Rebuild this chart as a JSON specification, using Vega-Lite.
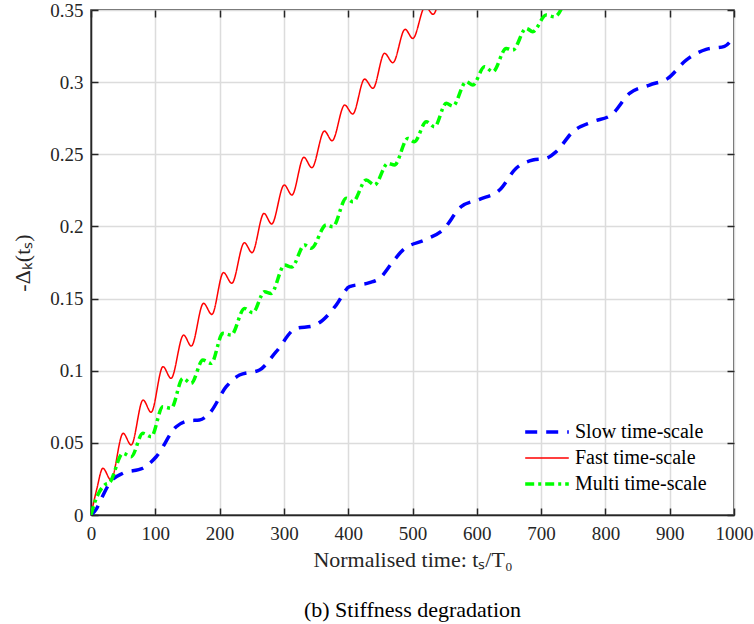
{
  "$schema": "https://vega.github.io/schema/vega-lite/v6.json",
  "autosize": "none",
  "width": 643,
  "height": 505,
  "padding": {"left": 91, "top": 10, "right": 20, "bottom": 109},
  "background": "white",
  "config": {
    "font": "Liberation Serif",
    "view": {"stroke": "#262626", "strokeWidth": 1.5},
    "axis": {
      "labelFont": "Liberation Serif",
      "titleFont": "Liberation Serif",
      "labelColor": "#262626",
      "titleColor": "#262626",
      "labelFontSize": 19,
      "titleFontSize": 22,
      "titleFontWeight": "normal",
      "gridColor": "#dcdcdc",
      "gridWidth": 1.5,
      "domainColor": "#262626",
      "domainWidth": 1.5,
      "tickColor": "#262626",
      "tickWidth": 1.5,
      "tickSize": -7,
      "labelFlush": false
    }
  },
  "title": {
    "text": "(b) Stiffness degradation",
    "orient": "bottom",
    "font": "Liberation Serif",
    "fontSize": 22,
    "fontWeight": "normal",
    "color": "#000000",
    "offset": 30
  },
  "data": {
    "values": [
      {"series": "Slow time-scale", "t": 0, "d": 0},
      {"series": "Slow time-scale", "t": 8, "d": 0.004},
      {"series": "Slow time-scale", "t": 18, "d": 0.013},
      {"series": "Slow time-scale", "t": 28.8, "d": 0.022},
      {"series": "Slow time-scale", "t": 49.5, "d": 0.0289},
      {"series": "Slow time-scale", "t": 80.6, "d": 0.0324},
      {"series": "Slow time-scale", "t": 101.4, "d": 0.0404},
      {"series": "Slow time-scale", "t": 132.5, "d": 0.0612},
      {"series": "Slow time-scale", "t": 153.2, "d": 0.0654},
      {"series": "Slow time-scale", "t": 168.7, "d": 0.0658},
      {"series": "Slow time-scale", "t": 184.3, "d": 0.0705},
      {"series": "Slow time-scale", "t": 210.3, "d": 0.0889},
      {"series": "Slow time-scale", "t": 231, "d": 0.097},
      {"series": "Slow time-scale", "t": 262, "d": 0.1005},
      {"series": "Slow time-scale", "t": 288, "d": 0.1132},
      {"series": "Slow time-scale", "t": 319, "d": 0.1294},
      {"series": "Slow time-scale", "t": 345, "d": 0.131},
      {"series": "Slow time-scale", "t": 360.5, "d": 0.1351},
      {"series": "Slow time-scale", "t": 381.3, "d": 0.1455},
      {"series": "Slow time-scale", "t": 402, "d": 0.1582},
      {"series": "Slow time-scale", "t": 433.1, "d": 0.161},
      {"series": "Slow time-scale", "t": 448.7, "d": 0.164},
      {"series": "Slow time-scale", "t": 469.4, "d": 0.1755},
      {"series": "Slow time-scale", "t": 485, "d": 0.1836},
      {"series": "Slow time-scale", "t": 521.3, "d": 0.191},
      {"series": "Slow time-scale", "t": 547.1, "d": 0.1975},
      {"series": "Slow time-scale", "t": 575.7, "d": 0.2137},
      {"series": "Slow time-scale", "t": 604.2, "d": 0.2188},
      {"series": "Slow time-scale", "t": 635.3, "d": 0.2252},
      {"series": "Slow time-scale", "t": 661.2, "d": 0.2403},
      {"series": "Slow time-scale", "t": 687, "d": 0.246},
      {"series": "Slow time-scale", "t": 707.9, "d": 0.2472},
      {"series": "Slow time-scale", "t": 723.5, "d": 0.2518},
      {"series": "Slow time-scale", "t": 749.3, "d": 0.2656},
      {"series": "Slow time-scale", "t": 780.4, "d": 0.2726},
      {"series": "Slow time-scale", "t": 809, "d": 0.2772},
      {"series": "Slow time-scale", "t": 837.5, "d": 0.2922},
      {"series": "Slow time-scale", "t": 868.6, "d": 0.298},
      {"series": "Slow time-scale", "t": 897, "d": 0.3026},
      {"series": "Slow time-scale", "t": 925.6, "d": 0.3153},
      {"series": "Slow time-scale", "t": 956.7, "d": 0.3227},
      {"series": "Slow time-scale", "t": 985.2, "d": 0.3248},
      {"series": "Slow time-scale", "t": 1000, "d": 0.3315},

      {"series": "Fast time-scale", "t": 0, "d": 0},
      {"series": "Fast time-scale", "t": 9, "d": 0.018},
      {"series": "Fast time-scale", "t": 18.5, "d": 0.0324},
      {"series": "Fast time-scale", "t": 31, "d": 0.0243},
      {"series": "Fast time-scale", "t": 50, "d": 0.0566},
      {"series": "Fast time-scale", "t": 62.5, "d": 0.0485},
      {"series": "Fast time-scale", "t": 81, "d": 0.0797},
      {"series": "Fast time-scale", "t": 93.5, "d": 0.0712},
      {"series": "Fast time-scale", "t": 112, "d": 0.1028},
      {"series": "Fast time-scale", "t": 124.5, "d": 0.0947},
      {"series": "Fast time-scale", "t": 144, "d": 0.1247},
      {"series": "Fast time-scale", "t": 156, "d": 0.1171},
      {"series": "Fast time-scale", "t": 175, "d": 0.1467},
      {"series": "Fast time-scale", "t": 188, "d": 0.139},
      {"series": "Fast time-scale", "t": 206, "d": 0.168},
      {"series": "Fast time-scale", "t": 219, "d": 0.1606},
      {"series": "Fast time-scale", "t": 238.5, "d": 0.1887},
      {"series": "Fast time-scale", "t": 250.5, "d": 0.1818},
      {"series": "Fast time-scale", "t": 269, "d": 0.209},
      {"series": "Fast time-scale", "t": 281, "d": 0.2017},
      {"series": "Fast time-scale", "t": 300.5, "d": 0.2287},
      {"series": "Fast time-scale", "t": 312.5, "d": 0.2218},
      {"series": "Fast time-scale", "t": 331, "d": 0.2479},
      {"series": "Fast time-scale", "t": 343.5, "d": 0.2407},
      {"series": "Fast time-scale", "t": 363, "d": 0.2661},
      {"series": "Fast time-scale", "t": 375, "d": 0.2594},
      {"series": "Fast time-scale", "t": 394.5, "d": 0.2841},
      {"series": "Fast time-scale", "t": 407, "d": 0.2779},
      {"series": "Fast time-scale", "t": 425.5, "d": 0.3021},
      {"series": "Fast time-scale", "t": 438.5, "d": 0.2957},
      {"series": "Fast time-scale", "t": 456.5, "d": 0.32},
      {"series": "Fast time-scale", "t": 469.5, "d": 0.3135},
      {"series": "Fast time-scale", "t": 488.5, "d": 0.3366},
      {"series": "Fast time-scale", "t": 500.5, "d": 0.3303},
      {"series": "Fast time-scale", "t": 520, "d": 0.3525},
      {"series": "Fast time-scale", "t": 532, "d": 0.347},
      {"series": "Fast time-scale", "t": 551, "d": 0.368},
      {"series": "Fast time-scale", "t": 563, "d": 0.362},

      {"series": "Multi time-scale", "t": 0, "d": 0},
      {"series": "Multi time-scale", "t": 6, "d": 0.009},
      {"series": "Multi time-scale", "t": 13, "d": 0.016},
      {"series": "Multi time-scale", "t": 22, "d": 0.021},
      {"series": "Multi time-scale", "t": 29, "d": 0.0225},
      {"series": "Multi time-scale", "t": 49.5, "d": 0.0427},
      {"series": "Multi time-scale", "t": 62.5, "d": 0.0404},
      {"series": "Multi time-scale", "t": 80.6, "d": 0.0566},
      {"series": "Multi time-scale", "t": 93.6, "d": 0.0543},
      {"series": "Multi time-scale", "t": 111.7, "d": 0.075},
      {"series": "Multi time-scale", "t": 124.7, "d": 0.074},
      {"series": "Multi time-scale", "t": 142.8, "d": 0.0947},
      {"series": "Multi time-scale", "t": 155.8, "d": 0.0913},
      {"series": "Multi time-scale", "t": 174, "d": 0.1074},
      {"series": "Multi time-scale", "t": 187, "d": 0.1051},
      {"series": "Multi time-scale", "t": 205, "d": 0.1259},
      {"series": "Multi time-scale", "t": 218, "d": 0.1247},
      {"series": "Multi time-scale", "t": 238.7, "d": 0.1432},
      {"series": "Multi time-scale", "t": 251.6, "d": 0.1402},
      {"series": "Multi time-scale", "t": 269.8, "d": 0.1548},
      {"series": "Multi time-scale", "t": 280, "d": 0.1536},
      {"series": "Multi time-scale", "t": 301, "d": 0.1732},
      {"series": "Multi time-scale", "t": 312, "d": 0.1718},
      {"series": "Multi time-scale", "t": 332, "d": 0.1871},
      {"series": "Multi time-scale", "t": 342.4, "d": 0.1848},
      {"series": "Multi time-scale", "t": 365.8, "d": 0.201},
      {"series": "Multi time-scale", "t": 376, "d": 0.1998},
      {"series": "Multi time-scale", "t": 396.9, "d": 0.2195},
      {"series": "Multi time-scale", "t": 407.2, "d": 0.2171},
      {"series": "Multi time-scale", "t": 428, "d": 0.2322},
      {"series": "Multi time-scale", "t": 441, "d": 0.2287},
      {"series": "Multi time-scale", "t": 461.6, "d": 0.2437},
      {"series": "Multi time-scale", "t": 472, "d": 0.2426},
      {"series": "Multi time-scale", "t": 492.7, "d": 0.261},
      {"series": "Multi time-scale", "t": 503, "d": 0.2587},
      {"series": "Multi time-scale", "t": 521.3, "d": 0.2726},
      {"series": "Multi time-scale", "t": 534.2, "d": 0.2691},
      {"series": "Multi time-scale", "t": 552.4, "d": 0.2853},
      {"series": "Multi time-scale", "t": 562.7, "d": 0.2834},
      {"series": "Multi time-scale", "t": 583.5, "d": 0.3003},
      {"series": "Multi time-scale", "t": 593.8, "d": 0.298},
      {"series": "Multi time-scale", "t": 612, "d": 0.3107},
      {"series": "Multi time-scale", "t": 625, "d": 0.3072},
      {"series": "Multi time-scale", "t": 645.7, "d": 0.3234},
      {"series": "Multi time-scale", "t": 656, "d": 0.3222},
      {"series": "Multi time-scale", "t": 676.8, "d": 0.3373},
      {"series": "Multi time-scale", "t": 687, "d": 0.335},
      {"series": "Multi time-scale", "t": 707.9, "d": 0.3465},
      {"series": "Multi time-scale", "t": 720.8, "d": 0.3453},
      {"series": "Multi time-scale", "t": 740, "d": 0.36}
    ]
  },
  "layer": [
    {
      "mark": {"type": "line", "interpolate": "monotone", "clip": true},
      "encoding": {
        "x": {
          "field": "t", "type": "quantitative",
          "scale": {"domain": [0, 1000], "nice": false},
          "axis": {"values": [0,100,200,300,400,500,600,700,800,900,1000], "format": "d", "title": "Normalised time: tₛ/T₀", "labelPadding": 16, "titlePadding": 6}
        },
        "y": {
          "field": "d", "type": "quantitative",
          "scale": {"domain": [0, 0.35], "nice": false, "zero": false},
          "axis": {"values": [0,0.05,0.1,0.15,0.2,0.25,0.3,0.35], "format": "~g", "title": "-Δₖ(tₛ)", "labelPadding": 15, "titlePadding": 15}
        },
        "color": {
          "field": "series", "type": "nominal",
          "scale": {"domain": ["Slow time-scale", "Fast time-scale", "Multi time-scale"], "range": ["#0000ff", "#ff0000", "#00ff00"]},
          "legend": {
            "title": null,
            "orient": "none",
            "legendX": 432,
            "legendY": 412,
            "labelFont": "Liberation Serif",
            "labelFontSize": 20,
            "labelColor": "#000000",
            "symbolSize": 1900,
            "labelOffset": 4,
            "rowPadding": 6,
            "clipHeight": 20,
            "symbolType": "stroke"
          }
        },
        "strokeDash": {
          "field": "series", "type": "nominal",
          "scale": {"domain": ["Slow time-scale", "Fast time-scale", "Multi time-scale"], "range": [[12, 9], [1, 0], [9, 4, 3, 4]]}
        },
        "strokeWidth": {
          "field": "series", "type": "nominal",
          "scale": {"type": "ordinal", "domain": ["Slow time-scale", "Fast time-scale", "Multi time-scale"], "range": [3.5, 1.5, 3.5]}
        }
      }
    },
    {
      "mark": {"type": "point", "opacity": 0},
      "encoding": {
        "x": {
          "field": "t", "type": "quantitative",
          "scale": {"domain": [0, 1000], "nice": false},
          "axis": {"orient": "top", "values": [0,100,200,300,400,500,600,700,800,900,1000], "labels": false, "grid": false, "domain": false, "title": null}
        },
        "y": {
          "field": "d", "type": "quantitative",
          "scale": {"domain": [0, 0.35], "nice": false, "zero": false},
          "axis": {"orient": "right", "values": [0,0.05,0.1,0.15,0.2,0.25,0.3,0.35], "labels": false, "grid": false, "domain": false, "title": null}
        }
      }
    }
  ],
  "resolve": {"scale": {"x": "independent", "y": "independent"}}
}
